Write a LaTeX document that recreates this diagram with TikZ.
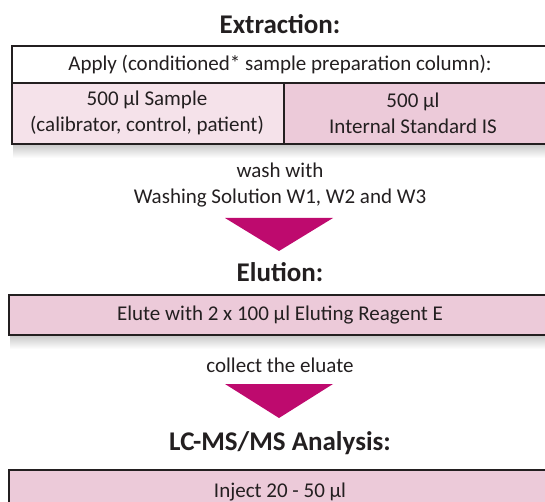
\documentclass[tikz,border=0pt]{standalone}
\usepackage{fontspec}
\setmainfont{Carlito}
\definecolor{ink}{HTML}{231F20}
\definecolor{pinkA}{HTML}{F5E2EA}
\definecolor{pinkB}{HTML}{ECCAD9}
\definecolor{arrowmag}{HTML}{BE0A6E}
\begin{document}
\begin{tikzpicture}[x=1pt,y=-1pt,
  body/.style={text=ink,font=\fontsize{21}{26}\selectfont,align=center,inner sep=0pt},
  heading/.style={text=ink,font=\fontsize{27}{30}\selectfont\bfseries,inner sep=0pt},
  cellbox/.style={draw=ink,line width=2pt,anchor=north west,inner sep=0pt},
  pointer/.style={fill=arrowmag,draw=none},
  shadowband/.style={top color=black!22,bottom color=white,draw=none}]
\useasboundingbox (0,0) rectangle (545,502);
\clip (0,0) rectangle (545,502);
% shadows
\shade[shadowband] (13,144) rectangle (560,158);
\shade[shadowband] (10,335) rectangle (560,349);
% title
\node[heading] (t1) at (280,24) {Extraction:};
% table
\node[cellbox,fill=white,minimum width=541pt,minimum height=37pt] (apply) at (11,45) {};
\node[body] (applytxt) at (280,65) {Apply (conditioned* sample preparation column):};
\node[cellbox,fill=pinkA,minimum width=272pt,minimum height=61pt] (sample) at (11,82) {};
\node[cellbox,fill=pinkB,minimum width=269pt,minimum height=61pt] (istd) at (283,82) {};
\node[body] (sampletxt) at (147,113) {500 µl Sample\\(calibrator, control, patient)};
\node[body] (istdtxt) at (413,113) {500 µl\\Internal Standard IS};
% wash
\node[body] (wash) at (280,185) {wash with\\Washing Solution W1, W2 and W3};
\coordinate (a1l) at (225,218);
\coordinate (a1r) at (333,218);
\coordinate (a1t) at (279,251);
\fill[pointer] (a1l) -- (a1r) -- (a1t) -- cycle;
% elution
\node[heading] (t2) at (280,272) {Elution:};
\node[cellbox,fill=pinkB,minimum width=544pt,minimum height=40pt] (elute) at (8,294) {};
\node[body] (elutetxt) at (280,315) {Elute with 2 x 100 µl Eluting Reagent E};
% collect
\node[body] (collect) at (280,365) {collect the eluate};
\coordinate (a2l) at (225,384);
\coordinate (a2r) at (333,384);
\coordinate (a2t) at (279,418);
\fill[pointer] (a2l) -- (a2r) -- (a2t) -- cycle;
% analysis
\node[heading] (t3) at (280,443) {LC-MS/MS Analysis:};
\node[cellbox,fill=pinkB,minimum width=544pt,minimum height=50pt] (inject) at (8,469) {};
\node[body] (injecttxt) at (280,492) {Inject 20 - 50 µl};
\end{tikzpicture}
\end{document}
